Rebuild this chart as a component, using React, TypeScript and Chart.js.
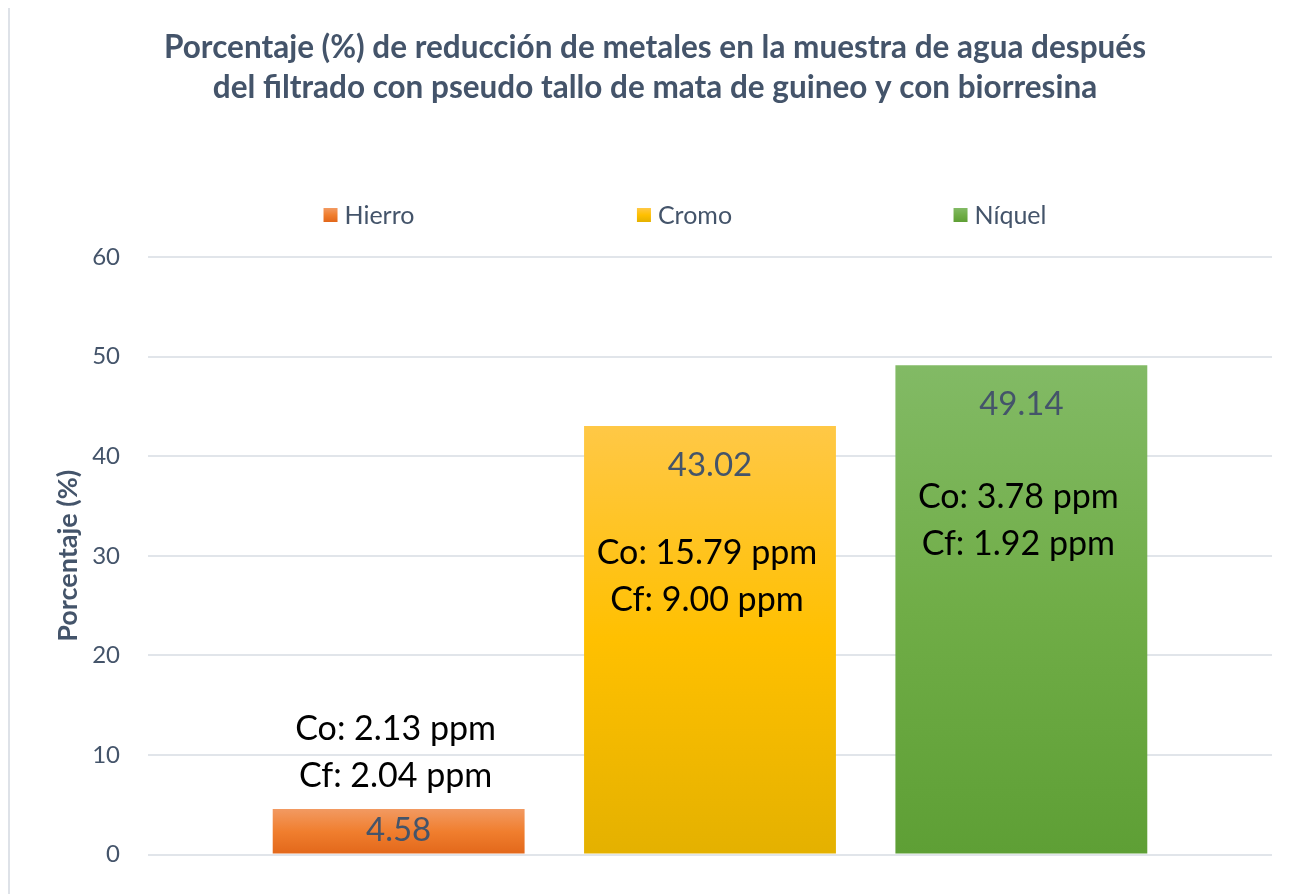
import React, { useEffect, useRef } from 'react';
import { Chart, registerables } from 'chart.js';

Chart.register(...registerables);

const TITLE_LINES = [
  'Porcentaje (%) de reducción de metales en la muestra de agua después',
  'del filtrado con pseudo tallo de mata de guineo y con biorresina',
];
const CATEGORIES = [''];
const SERIES = ['Hierro', 'Cromo', 'Níquel'];
const VALUES = [4.58, 43.02, 49.14];
const CO_LABELS = ['Co: 2.13 ppm', 'Co: 15.79 ppm', 'Co: 3.78 ppm'];
const CF_LABELS = ['Cf: 2.04 ppm', 'Cf: 9.00 ppm', 'Cf: 1.92 ppm'];
const NOTE_LEVEL = [12.7, 30.4, 36.0];
const Y_MIN = 0;
const Y_MAX = 60;
const Y_STEP = 10;
const Y_TITLE = 'Porcentaje (%)';

const GRADIENTS = [
  ['#F29A62', '#F07E2E', '#E2671A'],
  ['#FFC846', '#FFC000', '#E4B100'],
  ['#82BA65', '#70AD47', '#5E9F35'],
];

const SLATE = '#44546A';
const FONT = 'Lato, "Open Sans", sans-serif';

function barGradient(i: number) {
  return (c: any) => {
    const chart = c.chart;
    if (!chart.chartArea || !chart.scales.y) return GRADIENTS[i][1];
    const ys = chart.scales.y;
    const top = ys.getPixelForValue(VALUES[i]);
    const bot = ys.getPixelForValue(0);
    const g = chart.ctx.createLinearGradient(0, top, 0, bot);
    g.addColorStop(0, GRADIENTS[i][0]);
    g.addColorStop(0.5, GRADIENTS[i][1]);
    g.addColorStop(1, GRADIENTS[i][2]);
    return g;
  };
}

const overlay = {
  id: 'overlay',
  afterDatasetsDraw(chart: any) {
    const ctx = chart.ctx;
    const ys = chart.scales.y;
    const area = chart.chartArea;
    ctx.save();
    ctx.textAlign = 'center';
    ctx.textBaseline = 'middle';
    // title
    ctx.font = `bold 31.5px ${FONT}`;
    ctx.fillStyle = SLATE;
    TITLE_LINES.forEach((line, k) => {
      ctx.fillText(line, chart.width / 2, 41 + k * 40);
    });
    chart.data.datasets.forEach((ds: any, i: number) => {
      const bar = chart.getDatasetMeta(i).data[0];
      const p = bar.getProps(['x', 'y', 'base'], true);
      ctx.font = `33px ${FONT}`;
      ctx.fillStyle = SLATE;
      ctx.fillText(VALUES[i].toFixed(2), p.x, Math.min(p.y + 39, (p.y + p.base) / 2 - 1));
      ctx.font = `34px ${FONT}`;
      ctx.fillStyle = '#000000';
      const ly = ys.getPixelForValue(NOTE_LEVEL[i]);
      ctx.fillText(CO_LABELS[i], p.x - 3, ly + 1);
      ctx.fillText(CF_LABELS[i], p.x - 3, ly + 48);
    });
    // legend
    const mid = (area.left + area.right) / 2 - 25.5;
    const spacing = 315.5;
    const ly = 208;
    const box = 14;
    ctx.font = `25px ${FONT}`;
    ctx.textAlign = 'left';
    SERIES.forEach((name, i) => {
      const tw = ctx.measureText(name).width;
      const w = box + 7 + tw;
      const cx = mid + (i - 1) * spacing;
      const x0 = cx - w / 2;
      const g = ctx.createLinearGradient(0, ly - box / 2, 0, ly + box / 2);
      g.addColorStop(0, GRADIENTS[i][0]);
      g.addColorStop(0.5, GRADIENTS[i][1]);
      g.addColorStop(1, GRADIENTS[i][2]);
      ctx.fillStyle = g;
      ctx.fillRect(x0, ly - box / 2, box, box);
      ctx.fillStyle = SLATE;
      ctx.fillText(name, x0 + box + 7, ly + 1);
    });
    ctx.restore();
  },
};

export default function App() {
  const ref = useRef<HTMLCanvasElement>(null);
  useEffect(() => {
    if (!ref.current) return;
    const chart = new Chart(ref.current, {
      type: 'bar',
      data: {
        labels: CATEGORIES,
        datasets: SERIES.map((s, i) => ({
          label: s,
          data: [VALUES[i]],
          backgroundColor: barGradient(i),
          borderWidth: 0,
          categoryPercentage: 0.831,
          barPercentage: 0.809,
        })),
      },
      options: {
        responsive: false,
        animation: false,
        devicePixelRatio: 1,
        layout: { padding: { top: 250, right: 28, bottom: 40, left: 0 } },
        plugins: {
          legend: { display: false },
          tooltip: { enabled: false },
          title: { display: false },
        },
        scales: {
          x: { display: false },
          y: {
            min: Y_MIN,
            max: Y_MAX,
            border: { display: false },
            grid: { color: '#E1E5EA', lineWidth: 2, drawTicks: false },
            ticks: {
              stepSize: Y_STEP,
              color: SLATE,
              font: { family: FONT, size: 24 },
              padding: 28,
            },
            title: {
              display: true,
              text: Y_TITLE,
              color: SLATE,
              font: { family: FONT, size: 27, weight: 'bold' },
              padding: { top: 42, bottom: 0 },
            },
            afterFit(scale: any) {
              scale.width = 138;
            },
          },
        },
      },
      plugins: [overlay],
    });
    return () => chart.destroy();
  }, []);
  return (
    <div style={{ width: 1290, height: 890, border: '2px solid #DEE2E8', marginTop: -3, position: 'relative' }}>
      <canvas ref={ref} width={1290} height={890} style={{ display: 'block' }} />
    </div>
  );
}
